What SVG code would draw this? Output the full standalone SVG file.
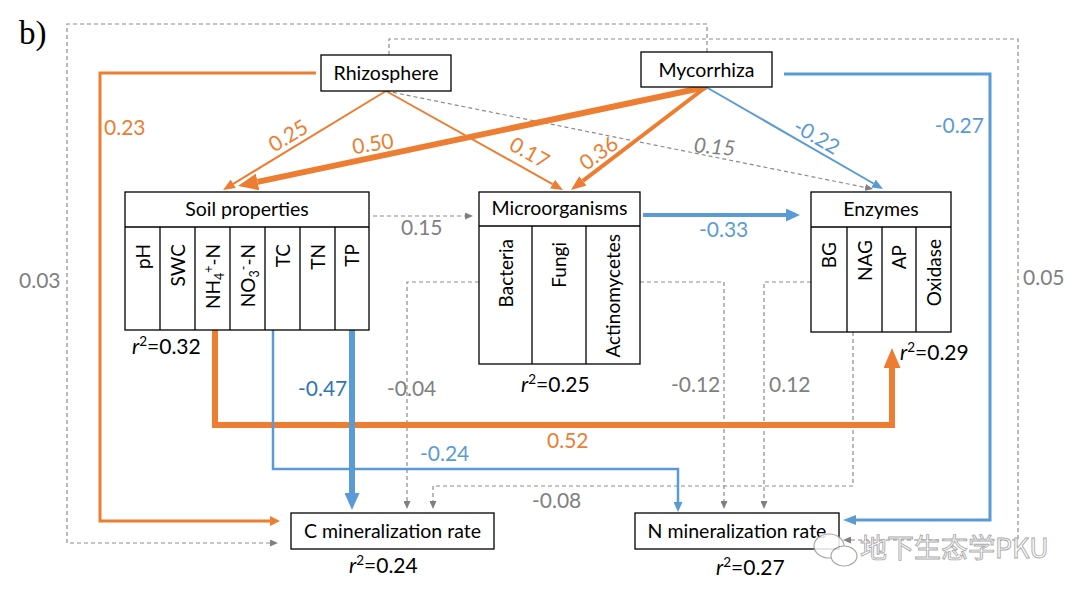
<svg xmlns="http://www.w3.org/2000/svg" width="1080" height="596" viewBox="0 0 1080 596">
<style>
.bx{fill:#fff;stroke:#000;stroke-width:1.3}
.dv{stroke:#000;stroke-width:1.3;fill:none}
.t{font-family:Lato,"Liberation Sans",sans-serif;font-size:19.5px;fill:#000}
.c{font-family:Lato,"Liberation Sans",sans-serif;font-size:19px;fill:#000;text-anchor:end}
.n{font-family:Lato,"Liberation Sans",sans-serif;font-size:21px}
.r{font-family:Lato,"Liberation Sans",sans-serif;font-size:21px;fill:#000}
.o{fill:#ED7D31}.b{fill:#5B9BD5}.db{fill:#2E75B6}.g{fill:#808080}
.lo{stroke:#ED7D31;fill:none;stroke-linejoin:miter}
.lb{stroke:#5B9BD5;fill:none;stroke-linejoin:miter}
.lg{stroke:#8C8C8C;fill:none;stroke-width:1.2;stroke-dasharray:4 3}
.mid{text-anchor:middle}
</style>
<defs>
<marker id="aO12" viewBox="0 0 10 10" refX="0" refY="5" markerUnits="userSpaceOnUse" markerWidth="12" markerHeight="10" orient="auto" preserveAspectRatio="none"><path d="M0,0L10,5L0,10z" fill="#ED7D31"/></marker>
<marker id="aO10" viewBox="0 0 10 10" refX="0" refY="5" markerUnits="userSpaceOnUse" markerWidth="10" markerHeight="10" orient="auto" preserveAspectRatio="none"><path d="M0,0L10,5L0,10z" fill="#ED7D31"/></marker>
<marker id="aO15" viewBox="0 0 10 10" refX="0" refY="5" markerUnits="userSpaceOnUse" markerWidth="15" markerHeight="12" orient="auto" preserveAspectRatio="none"><path d="M0,0L10,5L0,10z" fill="#ED7D31"/></marker>
<marker id="aO20" viewBox="0 0 10 10" refX="0" refY="5" markerUnits="userSpaceOnUse" markerWidth="20" markerHeight="17" orient="auto" preserveAspectRatio="none"><path d="M0,0L10,5L0,10z" fill="#ED7D31"/></marker>
<marker id="aB10" viewBox="0 0 10 10" refX="0" refY="5" markerUnits="userSpaceOnUse" markerWidth="10" markerHeight="9" orient="auto" preserveAspectRatio="none"><path d="M0,0L10,5L0,10z" fill="#5B9BD5"/></marker>
<marker id="aB11" viewBox="0 0 10 10" refX="0" refY="5" markerUnits="userSpaceOnUse" markerWidth="11" markerHeight="9" orient="auto" preserveAspectRatio="none"><path d="M0,0L10,5L0,10z" fill="#5B9BD5"/></marker>
<marker id="aB13" viewBox="0 0 10 10" refX="0" refY="5" markerUnits="userSpaceOnUse" markerWidth="13" markerHeight="10" orient="auto" preserveAspectRatio="none"><path d="M0,0L10,5L0,10z" fill="#5B9BD5"/></marker>
<marker id="aB14" viewBox="0 0 10 10" refX="0" refY="5" markerUnits="userSpaceOnUse" markerWidth="14" markerHeight="13" orient="auto" preserveAspectRatio="none"><path d="M0,0L10,5L0,10z" fill="#5B9BD5"/></marker>
<marker id="aB17" viewBox="0 0 10 10" refX="0" refY="5" markerUnits="userSpaceOnUse" markerWidth="17" markerHeight="15" orient="auto" preserveAspectRatio="none"><path d="M0,0L10,5L0,10z" fill="#5B9BD5"/></marker>
<marker id="aG" viewBox="0 0 10 10" refX="0" refY="5" markerUnits="userSpaceOnUse" markerWidth="8" markerHeight="7" orient="auto" preserveAspectRatio="none"><path d="M0,0L10,5L0,10z" fill="#808080"/></marker>
</defs>
<rect width="1080" height="596" fill="#fff"/>
<text x="19" y="44" font-family="'Liberation Serif',serif" font-size="33" fill="#000">b)</text>

<g id="connectors">
<path class="lg" d="M707,52V24H67V543H270" marker-end="url(#aG)"/>
<path class="lg" d="M389,55V39H1018V540H851" marker-end="url(#aG)"/>
<path class="lo" stroke-width="3" d="M316,73H100V521H270" marker-end="url(#aO10)"/>
<path class="lb" stroke-width="3" d="M784,74H990V520H856" marker-end="url(#aB13)"/>
<path class="lo" stroke-width="2" d="M386,91L233.3,183.8" marker-end="url(#aO12)"/>
<path class="lo" stroke-width="2" d="M386,91L552.5,184.1" marker-end="url(#aO12)"/>
<path class="lg" d="M386,91L865.2,187.4" marker-end="url(#aG)"/>
<path class="lo" stroke-width="6" d="M706,87L257.6,181.9" marker-end="url(#aO20)"/>
<path class="lo" stroke-width="4" d="M706,87L582.9,180.9" marker-end="url(#aO15)"/>
<path class="lb" stroke-width="2" d="M706,87L873.5,183.5" marker-end="url(#aB11)"/>
<path class="lg" d="M373,216H465" marker-end="url(#aG)"/>
<path class="lb" stroke-width="4" d="M643,215H786" marker-end="url(#aB14)"/>
<path class="lg" d="M479,282H407V501" marker-end="url(#aG)"/>
<path class="lg" d="M640,282H724V501" marker-end="url(#aG)"/>
<path class="lg" d="M811,282H764V501" marker-end="url(#aG)"/>
<path class="lg" d="M853,332V486H433V501" marker-end="url(#aG)"/>
<path class="lo" stroke-width="6" d="M215,330V425H892V368" marker-end="url(#aO20)"/>
<path class="lb" stroke-width="2.5" d="M273,330V469H678V502" marker-end="url(#aB10)"/>
<path class="lb" stroke-width="6" d="M352,330V493" marker-end="url(#aB17)"/>
</g>

<g id="labels">
<text class="n o" x="104" y="135">0.23</text>
<text class="n g" x="19" y="288">0.03</text>
<text class="n o mid" transform="translate(292,142) rotate(-31)">0.25</text>
<text class="n o mid" transform="translate(374,151) rotate(-9)">0.50</text>
<text class="n o mid" transform="translate(526,159) rotate(29)">0.17</text>
<text class="n o mid" transform="translate(603,159) rotate(-36)">0.36</text>
<text class="n g mid" font-style="italic" transform="translate(714,154) rotate(5)">0.15</text>
<text class="n b mid" transform="translate(813,143) rotate(30)">-0.22</text>
<text class="n b" x="984" y="133" text-anchor="end">-0.27</text>
<text class="n g" x="1023" y="285">0.05</text>
<text class="n g" x="401" y="235">0.15</text>
<text class="n b" x="699" y="237">-0.33</text>
<text class="n db" x="298" y="396">-0.47</text>
<text class="n g" x="387" y="396">-0.04</text>
<text class="n g" x="671" y="392">-0.12</text>
<text class="n g" x="769" y="392">0.12</text>
<text class="n o" x="547" y="448">0.52</text>
<text class="n b" x="420" y="461">-0.24</text>
<text class="n g" x="532" y="508">-0.08</text>
</g>

<g id="rhizosphere">
<rect class="bx" x="321" y="55" width="130" height="36"/>
<text class="t mid" x="386" y="80">Rhizosphere</text>
</g>

<g id="mycorrhiza">
<rect class="bx" x="641" y="52" width="131" height="35"/>
<text class="t mid" x="706.5" y="77">Mycorrhiza</text>
</g>

<g id="soil-properties">
<rect class="bx" x="125" y="192" width="244" height="138"/>
<path class="dv" d="M125,227H369M160,227V330M195,227V330M230,227V330M265,227V330M300,227V330M335,227V330"/>
<text class="t mid" x="247" y="216">Soil properties</text>
<text class="c" transform="translate(149.5,244) rotate(-90)">pH</text>
<text class="c" transform="translate(184.5,244) rotate(-90)">SWC</text>
<text class="c" transform="translate(219.5,244) rotate(-90)">NH<tspan font-size="12.5" dy="4">4</tspan><tspan font-size="12.5" dy="-11">+</tspan><tspan dy="7">-N</tspan></text>
<text class="c" transform="translate(254.5,244) rotate(-90)">NO<tspan font-size="12.5" dy="4">3</tspan><tspan font-size="12.5" dy="-11">-</tspan><tspan dy="7">-N</tspan></text>
<text class="c" transform="translate(289.5,244) rotate(-90)">TC</text>
<text class="c" transform="translate(324.5,244) rotate(-90)">TN</text>
<text class="c" transform="translate(358.5,244) rotate(-90)">TP</text>
<text class="r" x="132" y="354"><tspan font-style="italic">r</tspan><tspan font-size="13.5" dy="-8">2</tspan><tspan dy="8">=0.32</tspan></text>
</g>

<g id="microorganisms">
<rect class="bx" x="479" y="192" width="161" height="172"/>
<path class="dv" d="M479,226H640M532,226V364M586,226V364"/>
<text class="t mid" x="559.5" y="215">Microorganisms</text>
<text class="c" transform="translate(512.5,239) rotate(-90)">Bacteria</text>
<text class="c" transform="translate(566,242) rotate(-90)">Fungi</text>
<text class="c" transform="translate(619.5,234) rotate(-90)">Actinomycetes</text>
<text class="r" x="521" y="392"><tspan font-style="italic">r</tspan><tspan font-size="13.5" dy="-8">2</tspan><tspan dy="8">=0.25</tspan></text>
</g>

<g id="enzymes">
<rect class="bx" x="811" y="192" width="140" height="140"/>
<path class="dv" d="M811,227H951M847,227V332M882,227V332M916,227V332"/>
<text class="t mid" x="881" y="216">Enzymes</text>
<text class="c" transform="translate(836,242) rotate(-90)">BG</text>
<text class="c" transform="translate(871.5,240) rotate(-90)">NAG</text>
<text class="c" transform="translate(906,245) rotate(-90)">AP</text>
<text class="c" transform="translate(940.5,239) rotate(-90)">Oxidase</text>
<text class="r" x="900" y="360"><tspan font-style="italic">r</tspan><tspan font-size="13.5" dy="-8">2</tspan><tspan dy="8">=0.29</tspan></text>
</g>

<g id="c-mineralization">
<rect class="bx" x="291" y="513" width="203" height="36"/>
<text class="t mid" x="392.5" y="538">C mineralization rate</text>
<text class="r" x="349" y="573"><tspan font-style="italic">r</tspan><tspan font-size="13.5" dy="-8">2</tspan><tspan dy="8">=0.24</tspan></text>
</g>

<g id="n-mineralization">
<rect class="bx" x="635" y="513" width="204" height="36"/>
<text class="t mid" x="737" y="538">N mineralization rate</text>
<text class="r" x="716" y="575"><tspan font-style="italic">r</tspan><tspan font-size="13.5" dy="-8">2</tspan><tspan dy="8">=0.27</tspan></text>
</g>

<g id="watermark" opacity="0.85">
<ellipse cx="829" cy="546" rx="15" ry="12" fill="#fff" stroke="#9A9A9A" stroke-width="1.2"/>
<ellipse cx="844" cy="556" rx="13" ry="10" fill="#fff" stroke="#9A9A9A" stroke-width="1.2"/>
<text x="860" y="558" font-family="'Noto Sans CJK SC',sans-serif" font-size="27" fill="#fff" stroke="#9A9A9A" stroke-width="0.9">地下生态学PKU</text>
</g>
</svg>
